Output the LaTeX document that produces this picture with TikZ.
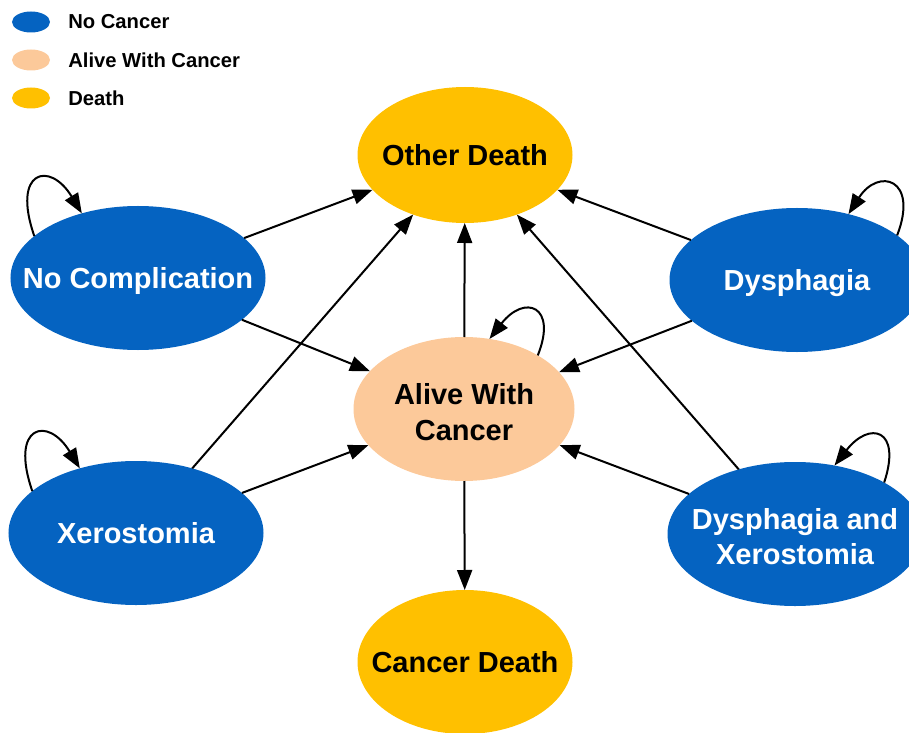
\documentclass[tikz,border=0pt]{standalone}
\usepackage{fontspec}
\setmainfont{Liberation Sans}
\usetikzlibrary{arrows.meta,shapes.geometric}
\definecolor{ncblue}{RGB}{5,99,193}
\definecolor{awcpeach}{RGB}{252,201,154}
\definecolor{dgold}{RGB}{255,192,0}
\newcommand{\lbl}[2][0.6mm]{\raisebox{-#1}[\height][\depth]{\makebox[0pt]{\begin{tabular}{@{}c@{}}#2\end{tabular}}}}
\begin{document}
\begin{tikzpicture}[x=0.2mm, y=-0.2mm,
  main/.style = {ellipse, inner sep=0pt, outer sep=0pt, font=\fontsize{16.5}{20}\selectfont\bfseries},
  nc/.style = {main, fill=ncblue, text=white, minimum width=51mm, minimum height=28.8mm},
  awc/.style = {main, fill=awcpeach, minimum width=44.2mm, minimum height=28.8mm},
  dth/.style = {main, fill=dgold, minimum width=43mm, minimum height=27.2mm},
  arr/.style = {-{Triangle[length=4mm,width=3mm]}, line width=0.4mm},
  legend/.style = {ellipse, minimum width=7.6mm, minimum height=4.2mm, inner sep=0pt},
  legtext/.style = {anchor=west, inner sep=0pt, font=\fontsize{11.5}{13}\selectfont\bfseries}]
  \useasboundingbox (0,0) rectangle (909,733);
  % legend
  \node[legend, fill=ncblue] (l1) at (31,22) {};
  \node[legend, fill=awcpeach] (l2) at (31,60) {};
  \node[legend, fill=dgold] (l3) at (31,98) {};
  \node[legtext] (t1) at (68,22) {No Cancer};
  \node[legtext] (t2) at (68,60) {Alive With Cancer};
  \node[legtext] (t3) at (68,98) {Death};
  % states
  \node[dth] (other) at (465,155) {\lbl{Other Death}};
  \node[nc] (nocomp) at (138,278) {\lbl{No Complication}};
  \node[nc] (dys) at (797,280) {\lbl{Dysphagia}};
  \node[awc] (alive) at (464,409) {\lbl[1.3mm]{Alive With\\Cancer}};
  \node[nc] (xero) at (136,533) {\lbl{Xerostomia}};
  \node[nc] (dysxero) at (795,534) {\lbl[1.2mm]{Dysphagia and\\Xerostomia}};
  \node[dth, minimum height=28.8mm] (cancer) at (465,662) {\lbl{Cancer Death}};
  % transitions
  \draw[arr] (nocomp) -- (other);
  \draw[arr] (nocomp) -- (alive);
  \draw[arr] (xero) -- (other);
  \draw[arr] (xero) -- (alive);
  \draw[arr] (dys) -- (other);
  \draw[arr] (dys) -- (alive);
  \draw[arr] (dysxero) -- (other);
  \draw[arr] (dysxero) -- (alive);
  \draw[arr] (alive) -- (other);
  \draw[arr] (alive) -- (cancer);
  % self loops
  \draw[arr] (nocomp.158) .. controls +(-23,-66) and +(-32,-53) .. (nocomp.131);
  \draw[arr] (xero.158) .. controls +(-23,-66) and +(-32,-53) .. (xero.131);
  \draw[arr] (alive.36) .. controls +(20,-50) and +(35,-45) .. (alive.70);
  \draw[arr] (dys.24) .. controls +(22,-57) and +(30,-47) .. (dys.52);
  \draw[arr] (dysxero.30) .. controls +(18,-54) and +(35,-45) .. (dysxero.60);
\end{tikzpicture}
\end{document}
